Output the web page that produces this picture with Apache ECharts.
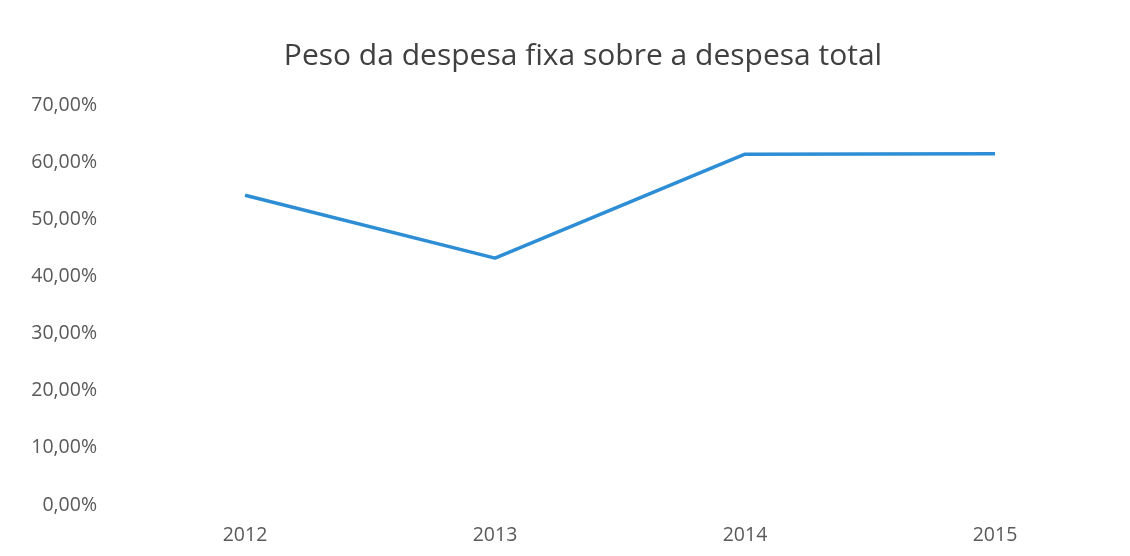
<!DOCTYPE html>
<html>
<head>
<meta charset="utf-8">
<script src="https://cdn.jsdelivr.net/npm/echarts@6/dist/echarts.min.js"></script>
<style>
  html, body { margin: 0; padding: 0; background: #fff; }
  #chart { width: 1130px; height: 556px; }
</style>
</head>
<body>
<div id="chart"></div>
<script>
// dados
const anos = ['2012', '2013', '2014', '2015'];
const pesoDespesaFixa = [54.2, 43.2, 61.4, 61.45];
const yTicks = [0, 10, 20, 30, 40, 50, 60, 70];

const chart = echarts.init(document.getElementById('chart'));

chart.setOption({
  backgroundColor: '#fff',
  animation: false,
  title: {
    text: 'Peso da despesa fixa sobre a despesa total',
    left: 578,
    textAlign: 'center',
    top: 36,
    textStyle: {
      fontFamily: 'Open Sans',
      fontSize: 30,
      fontWeight: 'normal',
      color: '#404040'
    }
  },
  grid: {
    left: 120,
    right: 10,
    top: 105,
    bottom: 51
  },
  xAxis: {
    type: 'category',
    data: anos,
    boundaryGap: true,
    axisLine: { show: false },
    axisTick: { show: false },
    axisLabel: {
      margin: 20,
      fontFamily: 'Open Sans',
      fontSize: 19.5,
      color: '#595959'
    }
  },
  yAxis: {
    type: 'value',
    min: yTicks[0],
    max: yTicks[yTicks.length - 1],
    interval: 10,
    axisLine: { show: false },
    axisTick: { show: false },
    splitLine: { show: false },
    axisLabel: {
      margin: 23,
      fontFamily: 'Open Sans',
      fontSize: 19.5,
      color: '#595959',
      formatter: v => v.toFixed(2).replace('.', ',') + '%'
    }
  },
  series: [{
    type: 'line',
    data: pesoDespesaFixa,
    symbol: 'none',
    lineStyle: { color: '#2D8ED6', width: 3.5 }
  }]
});
</script>
</body>
</html>
